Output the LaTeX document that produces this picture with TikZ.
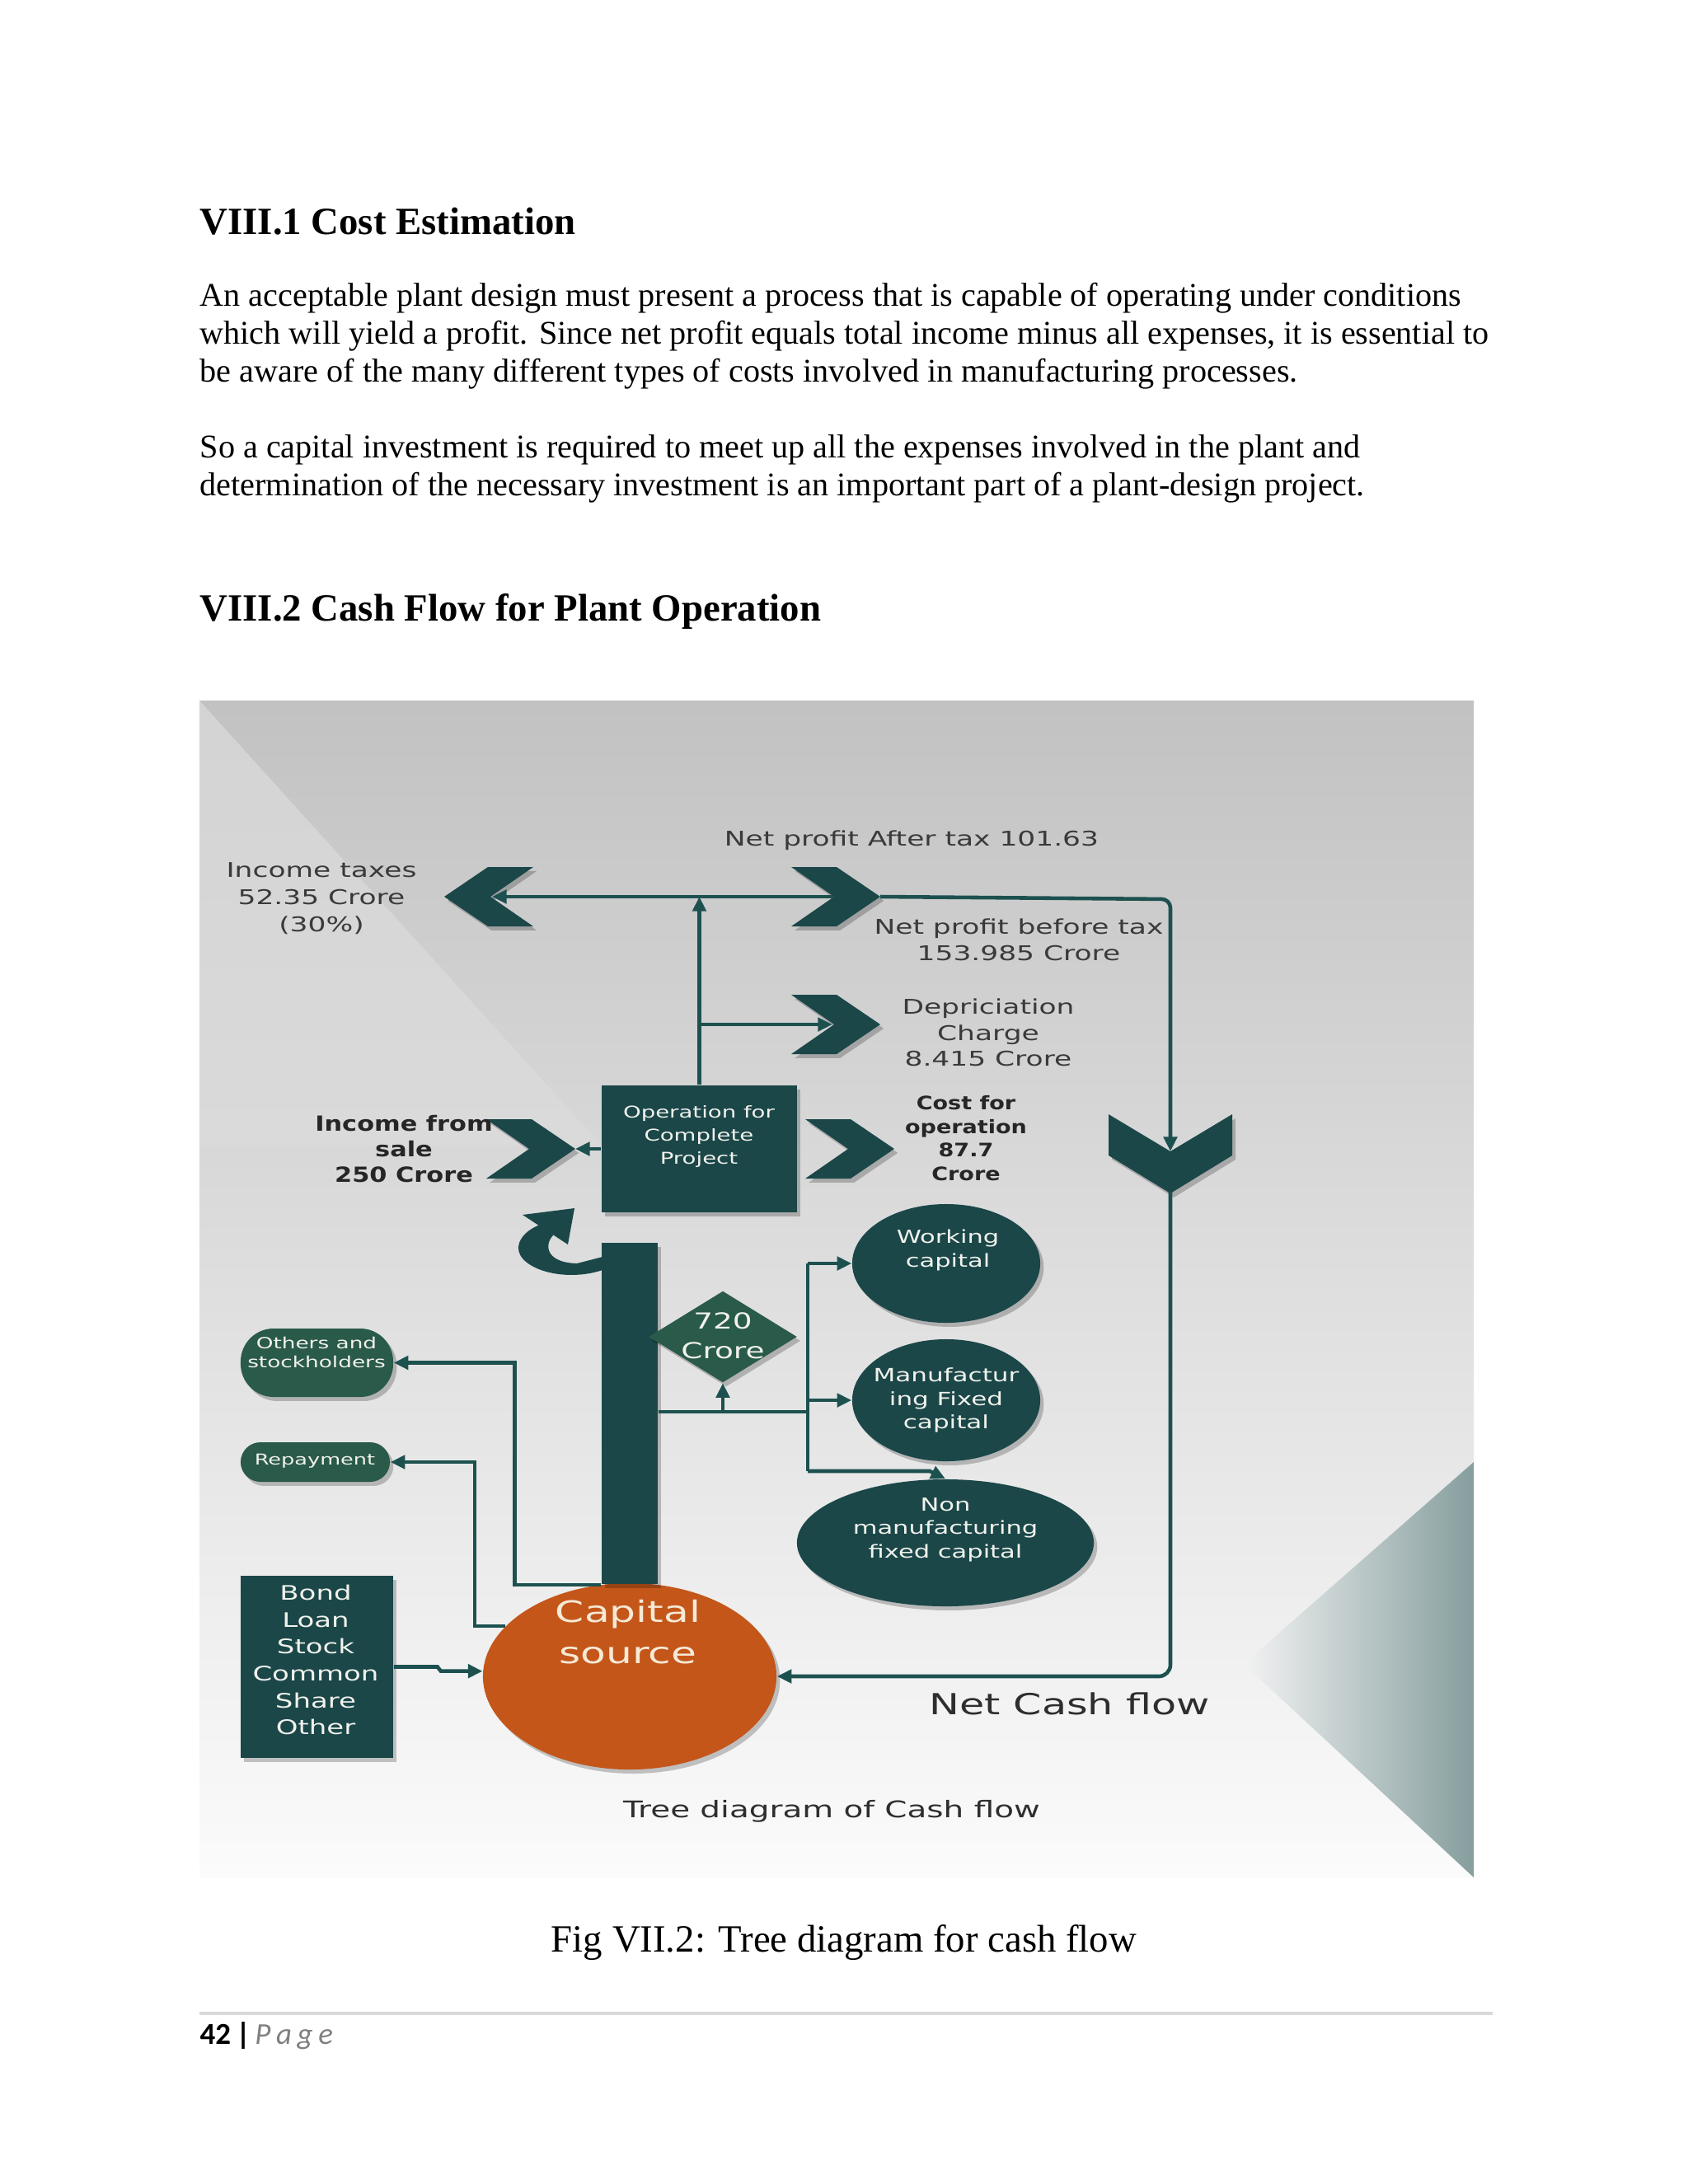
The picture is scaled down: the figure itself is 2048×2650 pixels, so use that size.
\documentclass[tikz,border=0pt]{standalone}
\usepackage{fontspec}
\setmainfont{Liberation Serif}
\newfontfamily\djwide[FakeStretch=1.4]{DejaVu Sans}
\newfontfamily\djbold[FakeStretch=1.2]{DejaVu Sans}
\newfontfamily\carl{Carlito}
\usetikzlibrary{shapes.geometric,arrows.meta,shadows}
\definecolor{tealbox}{HTML}{1B4749}
\definecolor{tealline}{HTML}{1D5150}
\definecolor{greenbox}{HTML}{2A5A49}
\definecolor{orangecap}{HTML}{C4561A}
\definecolor{labelgray}{HTML}{3A3A3A}
\definecolor{whitetxt}{HTML}{F1F2EC}
\definecolor{creamtxt}{HTML}{F6E9D6}
\newcommand{\fsz}[2]{\fontsize{#1pt}{#2pt}\selectfont}
\newcommand{\chevright}[2]{\fill[tealbox,shd] (#1,{#2-36}) -- ({#1+55},{#2-36}) -- ({#1+108},#2) -- ({#1+55},{#2+36}) -- (#1,{#2+36}) -- ({#1+52},#2) -- cycle;}
\begin{document}
\begin{tikzpicture}[x=0.01cm,y=-0.01cm,
  shd/.style={drop shadow={shadow xshift=1.2pt,shadow yshift=-1.4pt,opacity=0.22,fill=black}},
  box/.style={fill=tealbox,inner sep=0pt,shd},
  pill/.style={fill=greenbox,inner sep=0pt,shd},
  oval/.style={ellipse,fill=tealbox,inner sep=0pt,shd},
  lin/.style={draw=tealline,line width=1.3pt},
  conn/.style={lin,-{Triangle[length=5pt,width=4.6pt]}},
  lbl/.style={align=center,text=labelgray,inner sep=0pt,font=\djwide\fsz{7}{9.2}},
  blbl/.style={align=center,text=black!85,inner sep=0pt},
  wlbl/.style={align=center,text=whitetxt,inner sep=0pt},
  body/.style={anchor=base west,inner sep=0pt,font=\fsz{11.42}{13}}
]
\useasboundingbox (0,0) rectangle (2048,2650);
\fill[white] (0,0) rectangle (2048,2650);

% ---------- page text ----------
\node[body,font=\fsz{13.3}{15}\bfseries] (h1) at (242,284) {VIII.1 Cost Estimation};
\node[body] (p1a) at (242,371) {An acceptable plant design must present a process that is capable of operating under conditions};
\node[body] (p1b) at (242,417) {which will yield a profit. Since net profit equals total income minus all expenses, it is essential to};
\node[body] (p1c) at (242,463) {be aware of the many different types of costs involved in manufacturing processes.};
\node[body] (p2a) at (242,555) {So a capital investment is required to meet up all the expenses involved in the plant and};
\node[body] (p2b) at (242,601) {determination of the necessary investment is an important part of a plant-design project.};
\node[body,font=\fsz{13.3}{15}\bfseries] (h2) at (242,753) {VIII.2 Cash Flow for Plant Operation};

% ---------- diagram background ----------
\shade[top color=black!24,middle color=black!11,bottom color=black!1.5] (242,850) rectangle (1788,2278);
\shade[top color=black!17,bottom color=black!14.5] (242,850) -- (730,1390) -- (242,1390) -- cycle;
\shade[left color=black!5!white,right color={rgb,255:red,134;green,158;blue,158}] (1788,1774) -- (1509,2019) -- (1788,2278) -- cycle;

% ---------- top labels ----------
\node[lbl] (npat) at (1106,1020) {Net profit After tax 101.63};
\node[lbl,font=\djwide\fsz{7}{9.4}] (itax) at (390,1090) {Income taxes\\52.35 Crore\\(30\%)};
\node[lbl,font=\djwide\fsz{7}{9.1}] (npbt) at (1236,1140) {Net profit before tax\\153.985 Crore};
\node[lbl,font=\djwide\fsz{7}{8.9}] (depr) at (1199,1253) {Depriciation\\Charge\\8.415 Crore};

% ---------- chevrons ----------
\fill[tealbox,shd] (647,1052) -- (592,1052) -- (539,1088) -- (592,1124) -- (647,1124) -- (595,1088) -- cycle;
\coordinate (Ln) at (597,1088);
\chevright{960}{1088}
\coordinate (Rn) at (1012,1088);
\coordinate (Rt) at (1068,1088);
\chevright{960}{1243}
\coordinate (Dn) at (1010,1243);
\chevright{590}{1394}
\coordinate (It) at (698,1394);
\chevright{977}{1394}
\fill[tealbox,shd] (1345,1352) -- (1420,1397) -- (1495,1352) -- (1495,1402) -- (1420,1448) -- (1345,1402) -- cycle;
\coordinate (Nn) at (1420,1397);
\coordinate (Nt) at (1420,1446);

% ---------- operation box ----------
\node[box,minimum width=2.37cm,minimum height=1.54cm] (op) at (848.5,1394) {};
\node[wlbl,font=\djwide\fsz{5.6}{8}] (opt) at (848,1379) {Operation for\\Complete\\Project};
\node[blbl,font=\djbold\bfseries\fsz{7.2}{8.9}] (inc) at (490,1394) {Income from\\sale\\250 Crore};
\node[blbl,font=\djbold\bfseries\fsz{6.4}{8.1}] (cost) at (1172,1381) {Cost for\\operation\\87.7\\Crore};

% ---------- top connectors ----------
\draw[conn] (Rn) -- (Ln);
\draw[conn] (op.north) -- (op.north |- Ln);
\coordinate (J2) at (op.north |- Dn);
\draw[conn] (J2) -- (Dn);
\draw[conn] (op.west) -- (It);
\draw[conn,rounded corners=3pt] (Rt) -- (1420,1091) -- (Nn);

% ---------- capital source and bar ----------
\node[ellipse,fill=orangecap,minimum width=3.56cm,minimum height=2.26cm,inner sep=0pt,shd] (cap) at (764,2034) {};
\node[wlbl,text=creamtxt,font=\djwide\fsz{10.2}{14.2}] (capt) at (762,1980) {Capital\\source};
\node[box,minimum width=0.68cm,minimum height=4.14cm] (bar) at (764,1715) {};

% curved arrow
\fill[tealbox] (731,1541) .. controls (680,1558) and (620,1536) .. (630,1508) .. controls (634,1497) and (645,1490) .. (655,1486) -- (673,1497) .. controls (660,1508) and (660,1532) .. (700,1533) -- (731,1525) -- cycle;
\fill[tealbox] (634,1474) -- (697,1466) -- (689,1510) -- cycle;

% ---------- diamond ----------
\node[diamond,fill=greenbox,minimum width=1.8cm,minimum height=1.11cm,inner sep=0pt,shd] (dia) at (877,1622) {};
\node[wlbl,font=\djwide\fsz{7.6}{10.2}] (diat) at (877,1621) {720\\Crore};

% ---------- capital ellipses ----------
\node[oval,minimum width=2.28cm,minimum height=1.44cm] (wc) at (1148,1533) {};
\node[wlbl,font=\djwide\fsz{6.2}{8}] (wct) at (1150,1517) {Working\\capital};
\node[oval,minimum width=2.28cm,minimum height=1.48cm] (mfc) at (1148,1699) {};
\node[wlbl,font=\djwide\fsz{6.3}{8.1}] (mfct) at (1148,1699) {Manufactur\\ing Fixed\\capital};
\node[oval,minimum width=3.6cm,minimum height=1.54cm] (nm) at (1147,1872) {};
\node[wlbl,font=\djwide\fsz{6.2}{8.1}] (nmt) at (1147,1856) {Non\\manufacturing\\fixed capital};

\coordinate (J3) at (877,1713);
\coordinate (V1) at (980,1533);
\coordinate (V2) at (980,1785);
\draw[lin] (bar.east |- J3) -- (J3 -| V1);
\draw[conn] (J3) -- (dia.south);
\draw[lin] (V1) -- (V2);
\draw[conn] (V1) -- (wc.west);
\draw[conn] (V1 |- mfc.west) -- (mfc.west);
\draw[conn] (V2) -- (1128,1785) -- (nm.north);

% ---------- left boxes ----------
\node[pill,minimum width=1.85cm,minimum height=0.83cm,rounded corners=0.4cm] (oth) at (384.5,1653.5) {};
\node[wlbl,font=\djwide\fsz{5.35}{6.8}] (otht) at (384,1641) {Others and\\stockholders};
\node[pill,minimum width=1.81cm,minimum height=0.48cm,rounded corners=0.24cm] (rep) at (382.5,1774) {};
\node[wlbl,font=\djwide\fsz{5.2}{6.5}] (rept) at (382,1773) {Repayment};
\node[box,minimum width=1.85cm,minimum height=2.21cm] (bnd) at (384.5,2022.5) {};
\node[wlbl,font=\djwide\fsz{6.9}{9.3}] (bndt) at (383,2014) {Bond\\Loan\\Stock\\Common\\Share\\Other};

\draw[conn] (bar.south west) -- ++(-105,0) |- (oth.east);
\draw[conn] (cap.158) -- ++(-37,0) |- (rep.east);
\draw[conn] (bnd.east) -- ++(53,0) -- ++(4,5) -- (cap.178);
\draw[conn,rounded corners=4pt] (Nt) |- (cap.east);

% ---------- bottom labels ----------
\node[lbl,text=black!82,font=\djwide\fsz{10}{11.5}] (ncf) at (1298,2067) {Net Cash flow};
\node[lbl,text=black!82,font=\djwide\fsz{7.9}{9}] (tree) at (1009,2198) {Tree diagram of Cash flow};

% ---------- caption and footer ----------
\node[anchor=base,inner sep=0pt,font=\fsz{13.3}{15}] (cap2) at (1024,2368) {Fig VII.2: Tree diagram for cash flow};
\draw[black!15,line width=0.9pt] (242,2443) -- (1811,2443);
\node[anchor=base west,inner sep=0pt,font=\carl\fsz{10.5}{12}] (foot) at (242,2480) {\textbf{42\,|}\hspace{0.15em}\textcolor{black!50}{\itshape P\hspace{0.18em}a\hspace{0.18em}g\hspace{0.18em}e}};
\end{tikzpicture}
\end{document}
